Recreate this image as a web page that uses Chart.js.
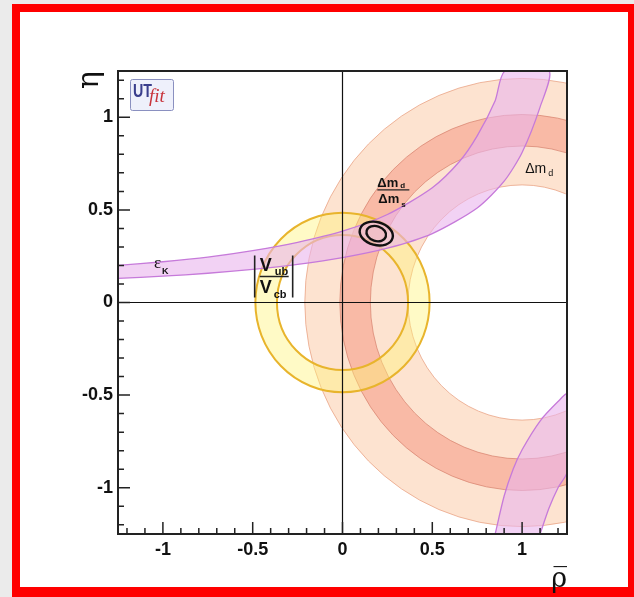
<!DOCTYPE html>
<html>
<head>
<meta charset="utf-8">
<script src="https://cdn.jsdelivr.net/npm/chart.js@4.4.1/dist/chart.umd.min.js"></script>
<style>
  html, body { margin: 0; padding: 0; background: #ebebeb; }
  #frame {
    position: absolute; left: 12px; top: 4px; width: 622px; height: 593px;
    box-sizing: border-box; border: solid #ff0000; border-width: 8px 6px 10px 8px;
    background: #fff;
  }
  #utChart { position: absolute; left: 0; top: 0; }
</style>
</head>
<body>
<div id="frame"></div>
<canvas id="utChart" width="634" height="597"></canvas>
<script>
// --- Axis ticks ---
const xTickLabels = [-1, -0.5, 0, 0.5, 1];
const yTickLabels = [-1, -0.5, 0, 0.5, 1];
const minorTicks = [-1.2, -1.1, -0.9, -0.8, -0.7, -0.6, -0.4, -0.3, -0.2, -0.1,
                    0.1, 0.2, 0.3, 0.4, 0.6, 0.7, 0.8, 0.9, 1.1, 1.2];

// --- Circular constraints: [centre rho, centre eta, inner radius, outer radius] ---
const dmdRing = [1, 0, 0.635, 1.21];     // Delta m_d
const dmsRing = [1, 0, 0.845, 1.015];    // Delta m_d / Delta m_s
const vubRing = [0, 0, 0.365, 0.485];    // |Vub/Vcb|

// --- Fit contours: [rho, eta, half width rho, half width eta, tilt deg] ---
const contour95 = [0.188, 0.372, 0.094, 0.062, 15];
const contour68 = [0.188, 0.372, 0.056, 0.040, 18];

// --- eps_K band, upper-left branch ---
const epsUpperRho = [-1.25, -1.0, -0.75, -0.5, -0.25, 0, 0.25, 0.5, 0.65, 0.75, 0.85, 0.905];
const epsUpperEta = [0.20, 0.22, 0.245, 0.28, 0.325, 0.385, 0.475, 0.62, 0.76, 0.90, 1.09, 1.25];
const epsLowerRho = [-1.25, -1.0, -0.75, -0.5, -0.25, 0, 0.25, 0.5, 0.75, 0.9, 1.0, 1.1, 1.15];
const epsLowerEta = [0.13, 0.142, 0.158, 0.179, 0.206, 0.242, 0.293, 0.372, 0.51, 0.655, 0.81, 1.055, 1.25];

// --- eps_K band, lower-right branch ---
const epsLrLeftRho = [0.85, 0.9, 0.95, 1.0, 1.1, 1.2, 1.25];
const epsLrLeftEta = [-1.25, -1.045, -0.9, -0.795, -0.64, -0.535, -0.495];
const epsLrRightRho = [1.1, 1.15, 1.2, 1.25];
const epsLrRightEta = [-1.25, -1.11, -1.0, -0.915];

// --- Helpers ---
const toPoints = (rho, eta) => rho.map((r, i) => ({ x: r, y: eta[i] }));
const px = (chart, v) => chart.scales.x.getPixelForValue(v);
const py = (chart, v) => chart.scales.y.getPixelForValue(v);

function bandShape(edgeA, edgeB) {
    // walk along one edge, back along the other -> closed polygon
    return edgeA.concat(edgeB.slice().reverse());
}

const upperBand = bandShape(toPoints(epsUpperRho, epsUpperEta), toPoints(epsLowerRho, epsLowerEta));
const lowerBand = bandShape(toPoints(epsLrLeftRho, epsLrLeftEta), toPoints(epsLrRightRho, epsLrRightEta));

function ringPath(chart, ring) {
    const ctx = chart.ctx;
    const [cr, ce, rIn, rOut] = ring;
    const x0 = px(chart, cr), y0 = py(chart, ce);
    const kx = px(chart, 1) - px(chart, 0);
    const ky = py(chart, 0) - py(chart, 1);
    ctx.beginPath();
    ctx.ellipse(x0, y0, rOut * kx, rOut * ky, 0, 0, 2 * Math.PI);
    ctx.moveTo(x0 + rIn * kx, y0);
    ctx.ellipse(x0, y0, rIn * kx, rIn * ky, 0, 0, 2 * Math.PI, true);
}

function drawRing(chart, ring, fill, stroke, width) {
    const ctx = chart.ctx;
    ringPath(chart, ring);
    ctx.fillStyle = fill;
    ctx.fill();
    ctx.strokeStyle = stroke;
    ctx.lineWidth = width;
    ctx.stroke();
}

function drawContour(chart, c) {
    const ctx = chart.ctx;
    const kx = px(chart, 1) - px(chart, 0);
    const ky = py(chart, 0) - py(chart, 1);
    ctx.beginPath();
    ctx.ellipse(px(chart, c[0]), py(chart, c[1]), c[2] * kx, c[3] * ky, c[4] * Math.PI / 180, 0, 2 * Math.PI);
    ctx.strokeStyle = '#111';
    ctx.lineWidth = 2.4;
    ctx.stroke();
}

// --- Plugins ---
const ringsPlugin = {
    id: 'rings',
    beforeDatasetsDraw(chart) {
        const ctx = chart.ctx;
        const a = chart.chartArea;
        ctx.save();
        ctx.beginPath();
        ctx.rect(a.left, a.top, a.right - a.left, a.bottom - a.top);
        ctx.clip();
        drawRing(chart, dmdRing, '#fde3d0', 'rgba(232,160,130,0.75)', 1);
        drawRing(chart, dmsRing, '#f9baa6', 'rgba(214,128,108,0.7)', 1);
        drawRing(chart, vubRing, 'rgba(255,244,120,0.42)', '#e8b42c', 2);
        ctx.restore();
    }
};

function sub(ctx, big, small, x, y, bigFont, smallFont, dx, dy) {
    ctx.font = bigFont;
    ctx.fillText(big, x, y);
    ctx.font = smallFont;
    ctx.fillText(small, x + dx, y + dy);
}

const overlayPlugin = {
    id: 'overlay',
    afterDatasetsDraw(chart) {
        const ctx = chart.ctx;
        const a = chart.chartArea;
        ctx.save();
        ctx.beginPath();
        ctx.rect(a.left, a.top, a.right - a.left, a.bottom - a.top);
        ctx.clip();
        drawContour(chart, contour95);
        drawContour(chart, contour68);
        // zero lines
        ctx.strokeStyle = '#111';
        ctx.lineWidth = 1.2;
        ctx.beginPath();
        ctx.moveTo(a.left, py(chart, 0)); ctx.lineTo(a.right, py(chart, 0));
        ctx.moveTo(px(chart, 0), a.top); ctx.lineTo(px(chart, 0), a.bottom);
        ctx.stroke();
        ctx.restore();

        // frame
        ctx.save();
        ctx.strokeStyle = '#222';
        ctx.lineWidth = 2;
        ctx.strokeRect(a.left, a.top, a.right - a.left, a.bottom - a.top);

        // inward ticks
        ctx.lineWidth = 1.5;
        ctx.beginPath();
        xTickLabels.forEach(v => { const x = px(chart, v); ctx.moveTo(x, a.bottom); ctx.lineTo(x, a.bottom - 12); });
        minorTicks.forEach(v => { const x = px(chart, v); ctx.moveTo(x, a.bottom); ctx.lineTo(x, a.bottom - 6); });
        yTickLabels.forEach(v => { const y = py(chart, v); ctx.moveTo(a.left, y); ctx.lineTo(a.left + 12, y); });
        minorTicks.forEach(v => { const y = py(chart, v); ctx.moveTo(a.left, y); ctx.lineTo(a.left + 6, y); });
        ctx.stroke();

        // constraint labels
        ctx.fillStyle = '#111';
        ctx.textBaseline = 'alphabetic';
        ctx.textAlign = 'left';

        // eps_K
        sub(ctx, 'ε', 'K', px(chart, -1.05), py(chart, 0.188),
            '17px "Liberation Serif"', 'bold 9px "Liberation Sans"', 8, 6);

        // |Vub / Vcb|
        let x = px(chart, -0.489), y = py(chart, 0.14);
        ctx.lineWidth = 1.6;
        ctx.beginPath();
        ctx.moveTo(x, y - 21); ctx.lineTo(x, y + 21);
        ctx.moveTo(x + 38, y - 21); ctx.lineTo(x + 38, y + 21);
        ctx.moveTo(x + 5, y); ctx.lineTo(x + 34, y);
        ctx.stroke();
        sub(ctx, 'V', 'ub', x + 5, y - 6, 'bold 18px "Liberation Sans"', 'bold 11px "Liberation Sans"', 15, 4);
        sub(ctx, 'V', 'cb', x + 5, y + 16, 'bold 18px "Liberation Sans"', 'bold 11px "Liberation Sans"', 14, 5);

        // Delta m_d / Delta m_s
        x = px(chart, 0.194); y = py(chart, 0.608);
        sub(ctx, 'Δm', 'd', x, y - 3, 'bold 13px "Liberation Sans"', 'bold 8px "Liberation Sans"', 23, 1);
        ctx.lineWidth = 1.4;
        ctx.beginPath(); ctx.moveTo(x, y); ctx.lineTo(x + 32, y); ctx.stroke();
        sub(ctx, 'Δm', 's', x + 1, y + 13, 'bold 13px "Liberation Sans"', 'bold 8px "Liberation Sans"', 23, 4);

        // Delta m_d
        sub(ctx, 'Δm', 'd', px(chart, 1.017), py(chart, 0.70),
            '14px "Liberation Sans"', '9px "Liberation Sans"', 23, 3);

        // UTfit logo
        const lx = a.left + 12, ly = a.top + 8;
        ctx.fillStyle = '#eef0fb';
        ctx.strokeStyle = '#8a90c0';
        ctx.lineWidth = 1;
        ctx.beginPath();
        ctx.roundRect(lx + 0.5, ly + 0.5, 43, 31, 2);
        ctx.fill();
        ctx.stroke();
        ctx.save();
        ctx.translate(lx + 3, ly + 18);
        ctx.scale(0.75, 1);
        ctx.fillStyle = '#3a3e8c';
        ctx.font = 'bold 19px "Liberation Sans"';
        ctx.fillText('UT', 0, 0);
        ctx.restore();
        ctx.fillStyle = '#c8343c';
        ctx.font = 'italic 19px "Liberation Serif"';
        ctx.fillText('fit', lx + 19, ly + 23);
        ctx.restore();
    }
};

// --- Chart ---
const ctx = document.getElementById('utChart').getContext('2d');

const bandStyle = {
    showLine: true,
    fill: 'shape',
    tension: 0.25,
    backgroundColor: 'rgba(233,180,237,0.6)',
    borderColor: '#c67ada',
    borderWidth: 1.3,
    pointRadius: 0
};

new Chart(ctx, {
    type: 'scatter',
    data: {
        datasets: [
            Object.assign({ label: 'eps_K', data: upperBand }, bandStyle),
            Object.assign({ label: 'eps_K (2nd branch)', data: lowerBand }, bandStyle)
        ]
    },
    options: {
        responsive: false,
        animation: false,
        events: [],
        layout: { padding: { left: 0, top: 71, right: 67, bottom: 0 } },
        plugins: {
            legend: { display: false },
            tooltip: { enabled: false }
        },
        scales: {
            x: {
                type: 'linear',
                min: -1.25,
                max: 1.25,
                afterBuildTicks: s => { s.ticks = xTickLabels.map(v => ({ value: v })); },
                afterFit: s => { s.height = 63; },
                grid: { display: false, drawTicks: false },
                border: { display: false },
                ticks: {
                    color: '#111',
                    padding: 5,
                    font: { family: 'Liberation Sans', size: 18, weight: 'bold' },
                    callback: v => String(v)
                },
                title: {
                    display: true,
                    text: 'ρ\u0305',
                    align: 'end',
                    color: '#111',
                    padding: { top: 0, bottom: 1 },
                    font: { family: 'DejaVu Serif', size: 27 }
                }
            },
            y: {
                type: 'linear',
                min: -1.25,
                max: 1.25,
                afterBuildTicks: s => { s.ticks = yTickLabels.map(v => ({ value: v })); },
                afterFit: s => { s.width = 118; },
                grid: { display: false, drawTicks: false },
                border: { display: false },
                ticks: {
                    color: '#111',
                    padding: 5,
                    font: { family: 'Liberation Sans', size: 18, weight: 'bold' },
                    callback: v => String(v)
                },
                title: {
                    display: true,
                    text: 'η',
                    align: 'end',
                    color: '#111',
                    padding: { top: 72, bottom: 0 },
                    font: { family: 'DejaVu Serif', size: 30 }
                }
            }
        }
    },
    plugins: [ringsPlugin, overlayPlugin]
});
</script>
</body>
</html>
